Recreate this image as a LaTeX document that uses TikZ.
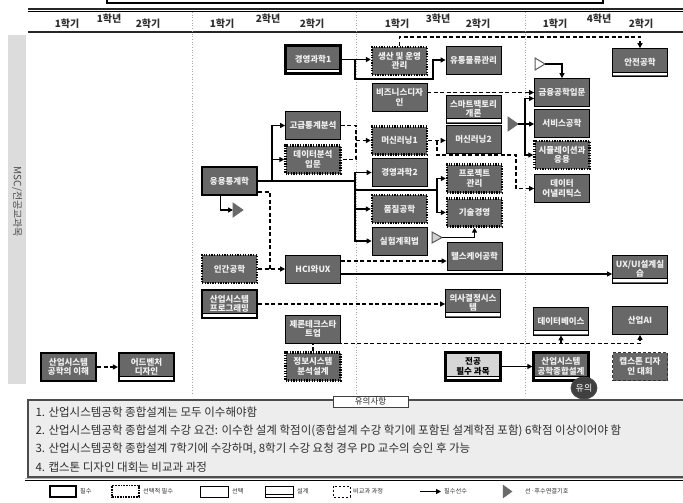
\documentclass[tikz,border=0pt]{standalone}
\usepackage{fontspec}
\setmainfont{Noto Sans CJK KR}
\usetikzlibrary{arrows.meta,calc,shapes.geometric}
\definecolor{boxgray}{HTML}{686868}
\definecolor{nodetext}{HTML}{F0F0F0}
\definecolor{lightbox}{HTML}{D6D6D6}
\definecolor{bandgray}{HTML}{DCDCDC}
\definecolor{notefill}{HTML}{EDEDED}
\definecolor{trigray}{HTML}{6A6A6A}
\definecolor{txtdark}{HTML}{2E2E2E}
\begin{document}
\begin{tikzpicture}[x=1pt,y=-1pt,
  nb/.style={fill=boxgray,text=nodetext,align=center,minimum width=55pt,minimum height=28pt,inner sep=0.5pt,font=\bfseries\fontsize{8.5}{9.5}\selectfont},
  mustb/.style={draw=black,line width=2.2pt},
  selb/.style={draw=black,line width=0.8pt},
  selmust/.style={preaction={draw=white,solid,line width=2.4pt},draw=black,line width=2.4pt,dash pattern=on 1.3pt off 1.3pt},
  extra/.style={draw=black!80,line width=1.2pt,dash pattern=on 3pt off 2pt},
  design/.style={path picture={
     \fill[white] ([yshift=1pt]path picture bounding box.south west) rectangle ([yshift=4pt]path picture bounding box.south east);
     \draw[solid,line width=.7pt] ([yshift=4.3pt]path picture bounding box.south west) -- ([yshift=4.3pt]path picture bounding box.south east);}},
  arr/.style={line width=1.3pt,-{Triangle[length=5pt,width=5pt]}},
  darr/.style={line width=1.5pt,dash pattern=on 4pt off 2.5pt,-{Triangle[length=5pt,width=5pt]}},
  dline/.style={line width=1.5pt,dash pattern=on 4pt off 2.5pt},
  sline/.style={line width=1.3pt},
  hdr/.style={font=\bfseries\fontsize{10}{11}\selectfont,text=txtdark},
  note/.style={anchor=west,font=\fontsize{11.5}{12}\selectfont,text=txtdark},
  lg/.style={anchor=west,font=\fontsize{6.2}{7}\selectfont,text=txtdark,inner sep=1pt},
  divl/.style={gray!70,dotted,line width=.7pt}
]
\useasboundingbox (0,0) rectangle (683,503);

% top box and header
\draw[line width=1.5pt] (107,-2) -- (107,3) -- (603,3) -- (603,-2);
\draw[line width=1.8pt,gray!30!black] (28,9) -- (683,9);
\draw[line width=.6pt] (28,11.8) -- (683,11.8);
\draw[line width=2pt,gray!30!black] (28,32.5) -- (683,32.5);
\node[hdr] (h11) at (67,24) {1학기};
\node[hdr] (h1) at (109,19) {1학년};
\node[hdr] (h12) at (148,24) {2학기};
\node[hdr] (h21) at (222,24) {1학기};
\node[hdr] (h2) at (268,19) {2학년};
\node[hdr] (h22) at (312,24) {2학기};
\node[hdr] (h31) at (397,24) {1학기};
\node[hdr] (h3) at (438,19) {3학년};
\node[hdr] (h32) at (478,24) {2학기};
\node[hdr] (h41) at (555,24) {1학기};
\node[hdr] (h4) at (599,19) {4학년};
\node[hdr] (h42) at (641,24) {2학기};

% dividers
\draw[divl] (192,12) -- (192,395);
\draw[divl] (356,12) -- (356,395);
\draw[divl] (525,12) -- (525,395);

% left band
\fill[bandgray] (8,35) rectangle (26,384);
\node[rotate=-90,text=gray!60!black,font=\fontsize{10}{11}\selectfont] (band) at (17,202) {MSC/전공교과목};

% nodes
\node[nb,mustb] (sie) at (68.5,367) {산업시스템\\공학의 이해};
\node[nb,mustb,design] (adv) at (146.5,367) {어드벤처\\디자인};
\node[nb,mustb,design] (ms1) at (313,59.5) {경영과학1};
\node[nb,selb] (ast) at (313,125.5) {고급통계분석};
\node[nb,selmust] (dai) at (313,159.5) {데이터분석\\입문};
\node[nb,mustb] (aps) at (229.5,181) {응용통계학};
\node[nb,selmust] (ergo) at (229.5,269) {인간공학};
\node[nb,mustb,design] (prog) at (229.5,304) {산업시스템\\프로그래밍};
\node[nb,selb] (hci) at (313,269) {HCI와UX};
\node[nb,selb] (ger) at (313,329) {제론테크스타\\트업};
\node[nb,selmust] (isad) at (313,366.5) {정보시스템\\분석설계};
\node[nb,selmust] (pom) at (399.5,61) {생산 및 운영\\관리};
\node[nb,selb] (bd) at (399.5,97.5) {비즈니스디자\\인};
\node[nb,selmust] (ml1) at (399.5,140.5) {머신러닝1};
\node[nb,selb] (ms2) at (399.5,172.5) {경영과학2};
\node[nb,selmust] (qe) at (399.5,209) {품질공학};
\node[nb,selb] (doe) at (399.5,241) {실험계획법};
\node[nb,selb] (scm) at (473.5,60) {유통물류관리};
\node[nb,selb,design] (sf) at (473.5,109) {스마트팩토리\\개론};
\node[nb,selb] (ml2) at (473.5,139.5) {머신러닝2};
\node[nb,selmust] (pm) at (474.5,178.5) {프로젝트\\관리};
\node[nb,selmust] (tm) at (474.5,212.5) {기술경영};
\node[nb,selb] (hc) at (474.5,256) {헬스케어공학};
\node[nb,selb,design] (dss) at (473,303) {의사결정시스\\템};
\node[nb,mustb,design,fill=lightbox,text=black] (maj) at (473,366.5) {전공\\필수 과목};
\node[nb,selb] (fe) at (562,92.5) {금융공학입문};
\node[nb,selb] (se) at (562,123) {서비스공학};
\node[nb,selmust] (sim) at (562,155) {시뮬레이션과\\응용};
\node[nb,selb] (da) at (562,188.5) {데이터\\어낼리틱스};
\node[nb,selb,design] (db) at (561,321) {데이터베이스};
\node[nb,mustb,design] (cap) at (561,366.5) {산업시스템\\공학종합설계};
\node[nb,selb,design] (saf) at (640,62.5) {안전공학};
\node[nb,selb,design] (ux) at (640,269) {UX/UI설계실\\습};
\node[nb,selb] (ai) at (640,320.5) {산업AI};
\node[nb,extra] (cdc) at (640,366.5) {캡스톤 디자\\인 대회};

% triangles
\filldraw[fill=trigray,draw=trigray,line width=.8pt] (233,203) -- (243,210) -- (233,217) -- cycle;
\coordinate (t1) at (233,210);
\filldraw[fill=white,draw=gray!70!black,line width=1pt] (535,58) -- (545,64) -- (535,70) -- cycle;
\coordinate (t2) at (545,64);
\filldraw[fill=trigray,draw=trigray,line width=.8pt] (508,117) -- (518,124) -- (508,131) -- cycle;
\coordinate (t3) at (518,124);
\filldraw[fill=gray!35,draw=gray!70!black,line width=1pt] (432,232) -- (442,237.5) -- (432,243) -- cycle;
\coordinate (t4) at (442,237.5);

% bus coordinates
\coordinate (jA) at (355,59.5);
\coordinate (jB) at (433,79);
\coordinate (jC) at (356,159.5);
\coordinate (jD) at (356,140.5);
\coordinate (jE) at (355,181);
\coordinate (jF) at (272,181);
\coordinate (jG) at (272,159.5);
\coordinate (jH) at (355,172.5);
\coordinate (jI) at (355,190);
\coordinate (jJ) at (437,190);
\coordinate (jK) at (437,140.5);
\coordinate (jL) at (516,155);
\coordinate (jM) at (525,124);
\coordinate (jN) at (270,269);
\coordinate (aps2) at ([yshift=-11pt]aps.east);
\coordinate (hci1) at ([yshift=8pt]hci.east);
\coordinate (hci2) at ([yshift=-5pt]hci.east);
\coordinate (isb) at ([yshift=8pt]isad.north);
\coordinate (fe2) at ([yshift=-6pt]fe.west);
\coordinate (apsb) at ([xshift=-9pt]aps.south);

% connectors
\draw[darr] (sie) -- (adv);
\draw[arr] (ms1.east) -- (ms1.east -| pom.west);
\draw[arr] (jA) |- (jB) |- (scm.west);
\draw[darr] (pom.north) -- ++(0,-9) -| (saf.north);
\draw[darr] (bd.east |- fe.west) -- (fe.west);
\draw[arr] (t2) -| (fe.north);
\draw[arr] (t3) -- (t3 -| se.west);
\draw[arr] (jM) |- (fe2);
\draw[arr] (jM) |- (sim.west);
\draw[dline] (ast.east) -| (jC) -- (dai.east);
\draw[darr] (jD) -- (ml1.west);
\draw[sline] (aps.east) -- (jE);
\draw[arr] (jF) |- (ast.west);
\draw[arr] (jG) -- (dai.west);
\draw[arr] (jE) |- (ms2.west);
\draw[arr] (jH) |- (qe.west);
\draw[arr] (jE) |- (doe.west);
\draw[sline] (jI) -- (jJ);
\draw[arr] (jJ) |- (pm.west);
\draw[arr] (jJ) |- (tm.west);
\draw[darr] (ml1.east) -- (ml1.east -| ml2.west);
\draw[darr] (jK) |- (jL) |- (da.west);
\draw[arr] (t4) -| (tm.south);
\draw[arr] (apsb) |- (t1);
\draw[darr] (ergo.east) -- (hci.west);
\draw[dline] (aps2) -| (jN);
\draw[darr] (hci1) -- (hci1 -| hc.west);
\draw[arr] (hci2) -- (hci2 -| ux.west);
\draw[darr] (prog.east) -- (prog.east -| dss.west);
\draw[darr] (isad.north) -- (isb) -| (ai.south);
\draw[darr] (isb -| db.south) -- (db.south);
\draw[arr] (maj) -- (cap);

\node[ellipse,fill=black!75,draw=gray!60!black,line width=.8pt,minimum width=26pt,minimum height=22pt,inner sep=0,text=white,font=\fontsize{9}{10}\selectfont] (yui) at (584,388) {유의};

% notes box
\draw[draw=gray!60!black,line width=1.5pt,fill=notefill] (28,400) rectangle (684,477);
\node[draw=gray!50!black,fill=white,line width=1pt,minimum width=75pt,minimum height=11pt,inner sep=0,font=\fontsize{8.5}{9}\selectfont,text=txtdark] (tab) at (370.5,401.5) {유의사항};
\node[note] (n1) at (32,412) {1. 산업시스템공학 종합설계는  모두 이수해야함};
\node[note] (n2) at (32,431) {2. 산업시스템공학 종합설계 수강 요건: 이수한 설계 학점이(종합설계 수강 학기에 포함된  설계학점 포함) 6학점 이상이어야 함};
\node[note] (n3) at (32,449) {3. 산업시스템공학 종합설계 7학기에 수강하며, 8학기 수강 요청 경우 PD 교수의  승인 후 가능};
\node[note] (n4) at (32,467) {4. 캡스톤 디자인 대회는 비교과 과정};
\draw[gray!60,line width=1pt] (25,478.5) -- (684,478.5);
\draw[black,line width=1.2pt] (25,480.5) -- (684,480.5);

% legend
\draw[line width=2pt] (50,486) rectangle (76,497);
\node[lg] (l1) at (79,491.5) {필수};
\draw[line width=1.2pt,dash pattern=on .8pt off .8pt] (112,485.5) rectangle (139,497);
\node[lg] (l2) at (142,491.5) {선택적 필수};
\draw[line width=.8pt] (200,486) rectangle (228,497);
\node[lg] (l3) at (231,491.5) {선택};
\draw[line width=.8pt] (265,486) rectangle (293,497);
\draw[line width=.6pt] (265,494.5) -- (293,494.5);
\node[lg] (l4) at (296,491.5) {설계};
\draw[line width=.9pt,dash pattern=on 2pt off 2pt] (333,486) rectangle (350,497);
\node[lg] (l5) at (352,491.5) {비교과 과정};
\coordinate (la1) at (420,491.5);
\coordinate (la2) at (441,491.5);
\draw[line width=1.2pt,-{Triangle[length=5pt,width=5pt]}] (la1) -- (la2);
\node[lg] (l6) at (443,491.5) {필수선수};
\filldraw[fill=trigray,draw=trigray] (503,485) -- (512,491.5) -- (503,498) -- cycle;
\node[lg] (l7) at (524,491.5) {선·후수연결기호};
\end{tikzpicture}
\end{document}
